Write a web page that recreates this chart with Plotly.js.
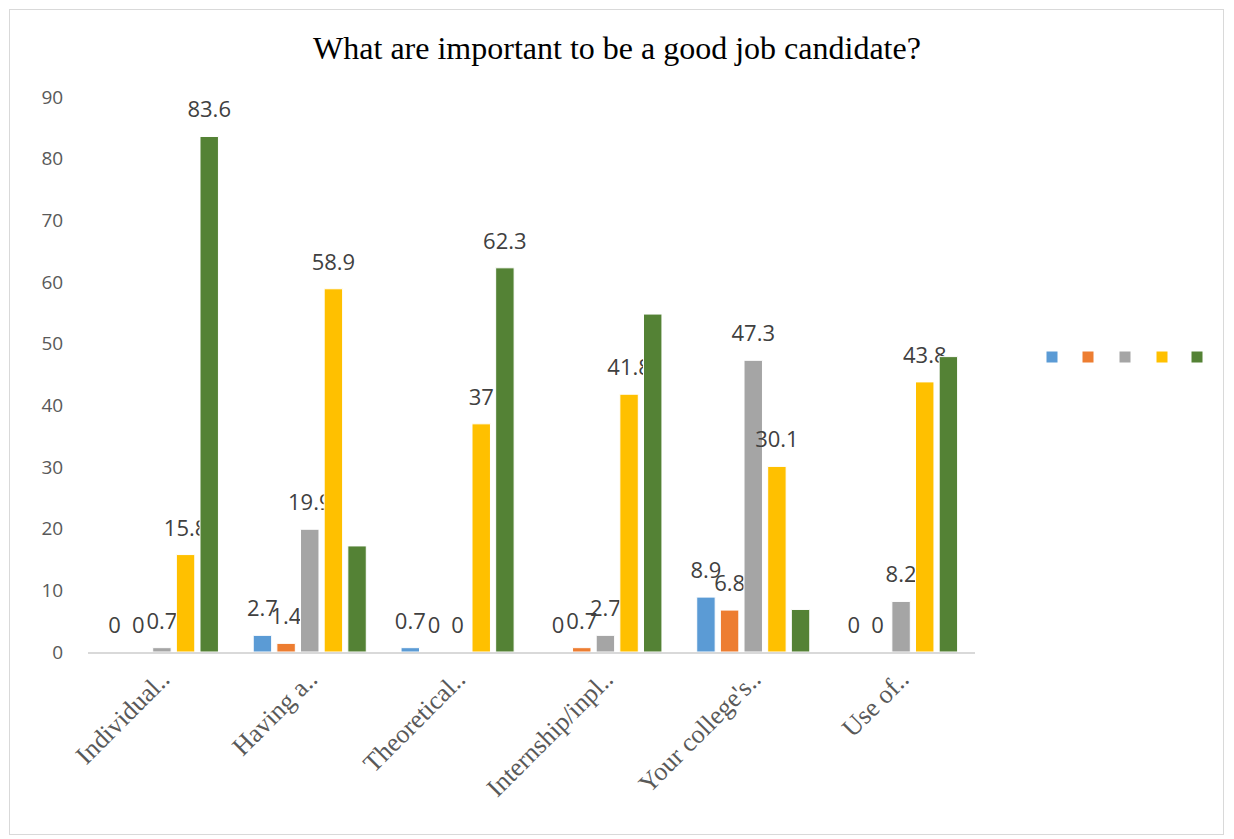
<!DOCTYPE html>
<html><head><meta charset="utf-8">
<script src="https://cdn.plot.ly/plotly-3.0.1.min.js"></script>
<style>
html,body{margin:0;padding:0;background:#fff;}
#wrap{position:relative;width:1234px;height:839px;overflow:hidden;}
#frame{position:absolute;left:9px;top:9px;width:1215px;height:826px;border:1.5px solid #d9d9d9;box-sizing:border-box;pointer-events:none;z-index:5;}
#chart{position:absolute;left:0;top:0;width:1234px;height:839px;}
</style></head>
<body><div id="wrap"><div id="chart"></div><div id="frame"></div></div>
<script>
const categories = ["Individual..", "Having a..", "Theoretical..", "Internship/inpl..", "Your college's..", "Use of.."];
const seriesNames = ["", "", "", "", ""];
const colors = ["#5b9bd5", "#ed7d31", "#a5a5a5", "#ffc000", "#548235"];
const s1 = [0, 2.7, 0.7, 0, 8.9, 0];
const s2 = [0, 1.4, 0, 0.7, 6.8, 0];
const s3 = [0.7, 19.9, 0, 2.7, 47.3, 8.2];
const s4 = [15.8, 58.9, 37, 41.8, 30.1, 43.8];
const s5 = [83.6, 17.2, 62.3, 54.8, 6.9, 47.9];
// data labels shown in the picture (false = label not drawn)
const showLabel1 = [true, true, true, true, true, true];
const showLabel2 = [true, true, true, true, true, true];
const showLabel3 = [true, true, true, true, true, true];
const showLabel4 = [true, true, true, true, true, true];
const showLabel5 = [true, false, true, false, false, false];
const yTicks = [0, 10, 20, 30, 40, 50, 60, 70, 80, 90];

const series = [s1, s2, s3, s4, s5];
const shows = [showLabel1, showLabel2, showLabel3, showLabel4, showLabel5];
const legendIds = ['legend', 'legend2', 'legend3', 'legend4', 'legend5'];
const legendLeft = [1032, 1068, 1105, 1142, 1177];

const labelText = v => '<span style="font-size:22px">' + v + '</span><br>&nbsp;';

const traces = series.map((vals, i) => ({
  type: 'bar',
  x: categories,
  y: vals,
  name: seriesNames[i],
  legend: legendIds[i],
  marker: {color: colors[i], line: {color: '#ffffff', width: 1}},
  text: vals.map((v, j) => shows[i][j] ? labelText(v) : ''),
  textposition: 'outside',
  constraintext: 'none',
  cliponaxis: false,
  textfont: {family: 'Open Sans, Liberation Sans, sans-serif', size: 10, color: '#404040'},
  hoverinfo: 'x+y'
}));

const L = 88, R = 975, T = 97, B = 652;
const layout = {
  width: 1234, height: 839,
  paper_bgcolor: '#ffffff', plot_bgcolor: '#ffffff',
  margin: {l: L, r: 1234 - R, t: T, b: 839 - B},
  title: {
    text: 'What are important to be a good job candidate?',
    font: {family: 'Liberation Serif, Times New Roman, serif', size: 32, color: '#000000'},
    x: 0.5, xref: 'container', xanchor: 'center', y: 0.943, yref: 'container', yanchor: 'middle'
  },
  barmode: 'group',
  bargap: 0.2,
  bargroupgap: 0.22,
  showlegend: true,
  xaxis: {
    type: 'category',
    tickangle: -45,
    tickfont: {family: 'Liberation Serif, Times New Roman, serif', size: 26, color: '#595959'},
    showline: true, linecolor: '#d9d9d9', linewidth: 1.5,
    ticks: '', showgrid: false, zeroline: false,
    automargin: false
  },
  yaxis: {
    range: [0, 90],
    tickvals: yTicks,
    ticktext: yTicks.map(String),
    tickfont: {family: 'Open Sans, Liberation Sans, sans-serif', size: 19, color: '#595959'},
    ticks: 'outside', ticklen: 20, tickcolor: 'rgba(0,0,0,0)',
    showline: false, showgrid: false, zeroline: false,
    automargin: false
  }
};
legendIds.forEach((id, i) => {
  layout[id] = {
    orientation: 'h', xref: 'paper', yref: 'paper',
    x: (legendLeft[i] - L) / (R - L), xanchor: 'left', y: (B - 357) / (B - T), yanchor: 'middle',
    itemwidth: 30, font: {size: 2, color: '#ffffff'}, bgcolor: 'rgba(0,0,0,0)'
  };
});

Plotly.newPlot('chart', traces, layout, {displayModeBar: false, staticPlot: true});
</script></body></html>
